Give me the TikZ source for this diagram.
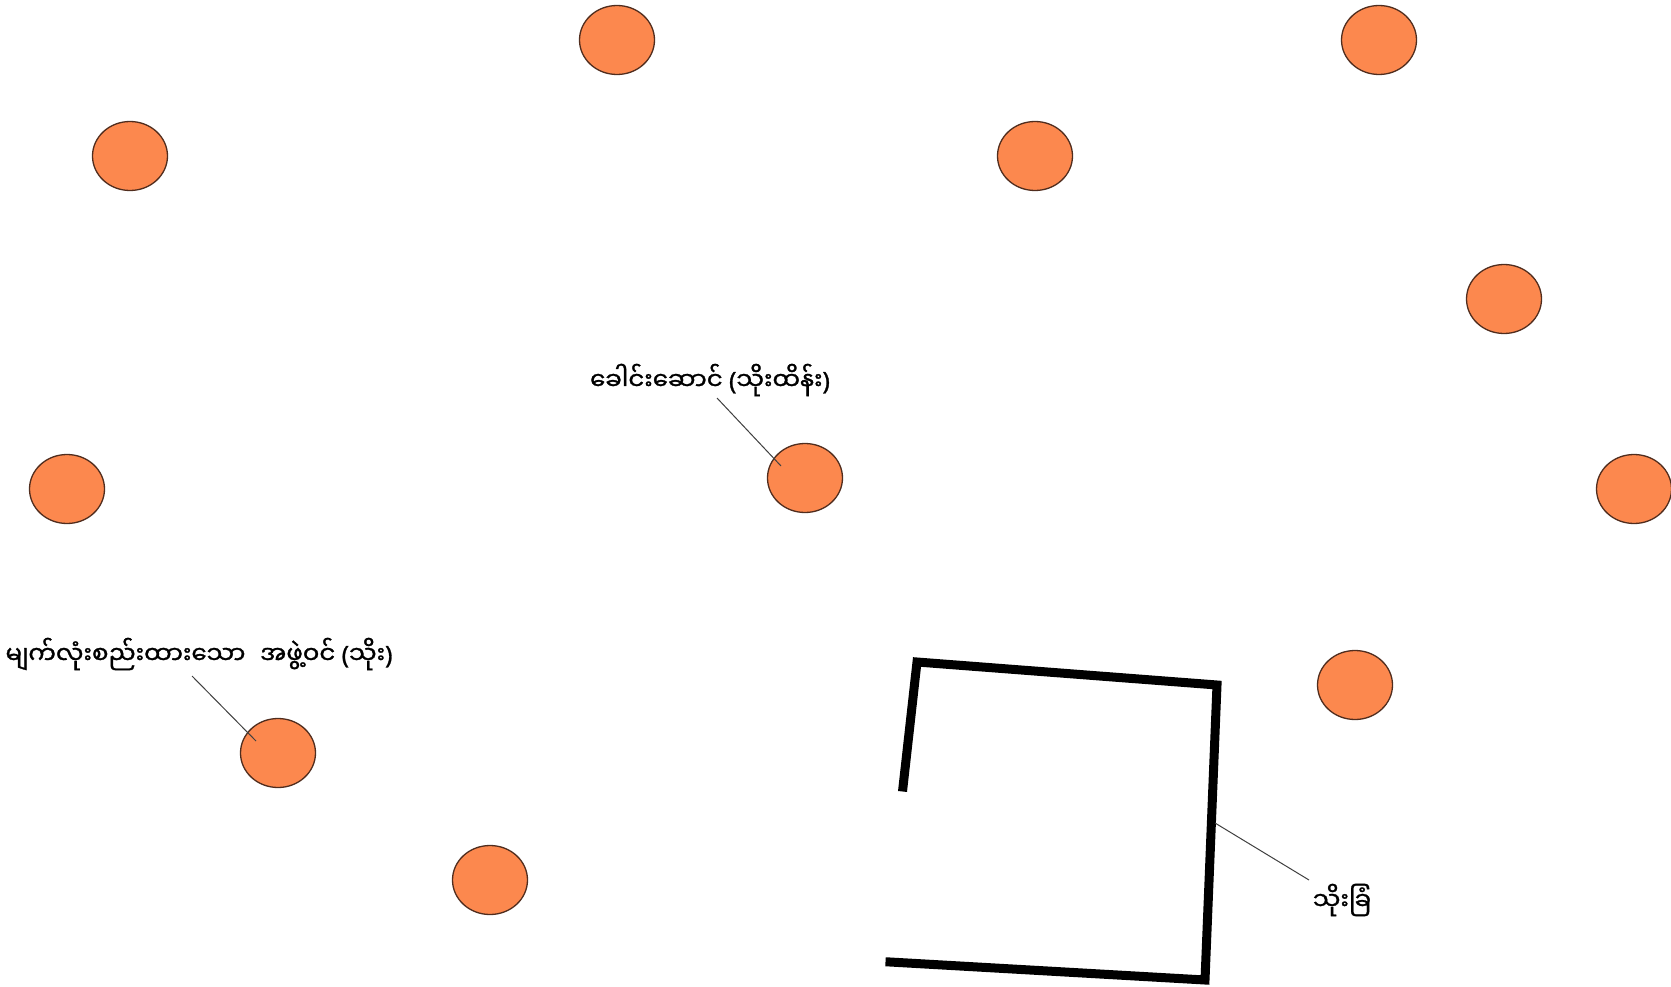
\documentclass[tikz,border=0pt]{standalone}
\usepackage{fontspec}
\newfontfamily\mya[Script=Myanmar,FakeBold=1.2]{Noto Sans Myanmar UI}
\newfontfamily\parfont[FakeBold=1.2]{Noto Sans}
\newcommand{\lpar}{{\parfont(}}
\newcommand{\rpar}{{\parfont)}}
\usetikzlibrary{shapes.geometric,calc}
\definecolor{sheepfill}{RGB}{252,136,78}
\definecolor{sheepedge}{RGB}{80,45,30}
\tikzset{
  sheep/.style={ellipse,draw=sheepedge,line width=1.3pt,fill=sheepfill,minimum width=75pt,minimum height=69pt,inner sep=0pt},
  lbl/.style={font=\mya\fontsize{24.5}{29}\selectfont,inner sep=0pt},
  leader/.style={line width=1pt,draw=black!75},
  fence/.style={line width=9pt,line cap=rect,line join=miter}
}
\begin{document}
\begin{tikzpicture}[x=1pt,y=-1pt]
\useasboundingbox (0,0) rectangle (1671,987);
\node[sheep] (s1) at (617,40) {};
\node[sheep] (s2) at (1379,40) {};
\node[sheep] (s3) at (130,156) {};
\node[sheep] (s4) at (1035,156) {};
\node[sheep] (s5) at (1504,299) {};
\node[sheep] (s6) at (67,489) {};
\node[sheep] (s7) at (805,478) {};
\node[sheep] (s8) at (1634,489) {};
\node[sheep] (s9) at (1355,685) {};
\node[sheep] (s10) at (278,753) {};
\node[sheep] (s11) at (490,880) {};
% fence
\draw[fence] (903,787) -- (917,662) -- (1217,685) -- (1205,980) -- (890,962);
\coordinate (fenceR) at (1215,823);
% labels
\node[lbl] (leaderlbl) at (710,380) {ခေါင်းဆောင် \lpar{}သိုးထိန်း\rpar};
\node[lbl] (memberlbl) at (199,654) {မျက်လုံးစည်းထားသော\hspace{0.6em}အဖွဲ့ဝင် \lpar{}သိုး\rpar};
\node[lbl] (foldlbl) at (1342,900) {သိုးခြံ};
\coordinate (leaderA) at (717,398);
\coordinate (leaderB) at ($(s7)+(-24,-12)$);
\coordinate (memberA) at (192,676);
\coordinate (memberB) at ($(s10)+(-22,-12)$);
\coordinate (foldA) at (1309,880);
\draw[leader] (leaderA) -- (leaderB);
\draw[leader] (memberA) -- (memberB);
\draw[leader] (fenceR) -- (foldA);
\end{tikzpicture}
\end{document}
